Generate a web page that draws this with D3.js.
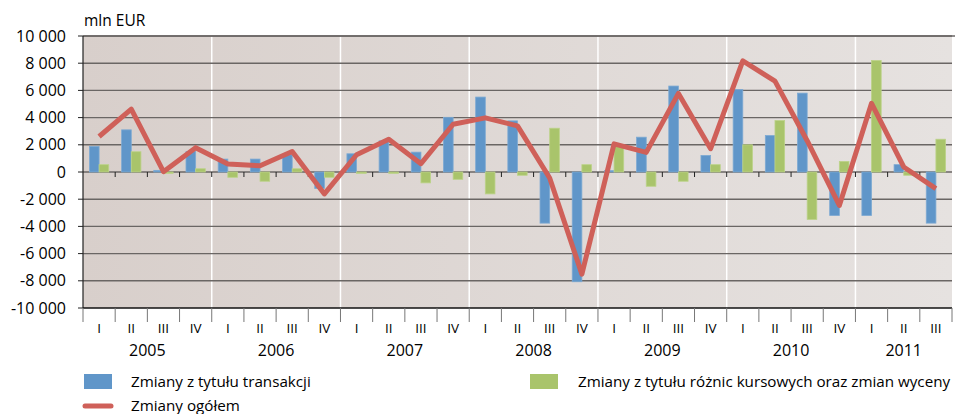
<!DOCTYPE html>
<html>
<head>
<meta charset="utf-8">
<script src="https://cdn.jsdelivr.net/npm/d3@7"></script>
<style>
  body { margin: 0; background: #fff; }
  svg { display: block; font-family: "Open Sans", "Noto Sans", sans-serif; }
</style>
</head>
<body>
<div id="chart"></div>
<script>
// kwartały 2005 I - 2011 III
const years = ['2005', '2006', '2007', '2008', '2009', '2010', '2011'];
const quarterNames = ['I', 'II', 'III', 'IV'];
const quarters = [];
years.forEach(y => quarterNames.forEach(q => quarters.push({year: y, q: q})));
quarters.splice(27); // ostatni: 2011 III

const transakcje = [1880, 3100, 120, 1510, 950, 950, 1270, -1220,
  1340, 2290, 1460, 4020, 5510, 3760, -3760, -8070,
  100, 2560, 6320, 1220, 6070, 2680, 5800, -3200,
  -3200, 540, -3760];
const wycena = [540, 1490, -100, 240, -390, -680, 240, -390,
  -100, -100, -800, -540, -1610, -240, 3220, 540,
  1900, -1050, -680, 540, 2000, 3780, -3490, 780,
  8200, -240, 2410];
const ogolem = [2610, 4630, 20, 1790, 590, 460, 1510, -1610,
  1270, 2410, 610, 3510, 3980, 3390, -440, -7510,
  2070, 1440, 5780, 1710, 8170, 6680, 2300, -2460,
  5050, 370, -1220];
const yTicks = [10000, 8000, 6000, 4000, 2000, 0, -2000, -4000, -6000, -8000, -10000];

const width = 955, height = 414;
const mLeft = 83, mRight = 952, mTop = 36, mBottom = 308;

const svg = d3.select('#chart').append('svg')
  .attr('width', width)
  .attr('height', height);

const x = d3.scaleBand()
  .domain(d3.range(quarters.length))
  .range([mLeft, mRight])
  .paddingInner(0)
  .paddingOuter(0);
const y = d3.scaleLinear().domain([-10000, 10000]).range([mBottom, mTop]);
const barW = x.bandwidth() * 0.3;
const fmt = v => d3.format(',')(v).replace(/,/g, ' ').replace('\u2212', '-');

// tło z gradientem
const defs = svg.append('defs');
const grad = defs.append('linearGradient').attr('id', 'bg')
  .attr('x1', '0%').attr('x2', '100%').attr('y1', '0%').attr('y2', '0%');
grad.append('stop').attr('offset', '0%').attr('stop-color', '#d8cfcb');
grad.append('stop').attr('offset', '100%').attr('stop-color', '#e6e2e0');

svg.append('rect')
  .attr('x', mLeft).attr('y', mTop)
  .attr('width', mRight - mLeft).attr('height', mBottom - mTop)
  .attr('fill', 'url(#bg)');

// białe linie między latami
years.slice(1).forEach((yr, i) => {
  const xi = x((i + 1) * 4);
  svg.append('line')
    .attr('x1', xi).attr('x2', xi)
    .attr('y1', mTop).attr('y2', mBottom)
    .attr('stroke', '#fff').attr('stroke-width', 1.5);
});

// linie siatki
svg.append('g')
  .selectAll('line')
  .data(yTicks.filter(v => v !== -10000))
  .join('line')
  .attr('x1', mLeft).attr('x2', mRight)
  .attr('y1', d => y(d)).attr('y2', d => y(d))
  .attr('stroke', '#6a6664')
  .attr('stroke-width', 1.4);

// słupki
const bars = svg.append('g');
bars.selectAll('.b1')
  .data(transakcje)
  .join('rect')
  .attr('class', 'b1')
  .attr('x', (d, i) => x(i) + x.bandwidth() / 2 - barW)
  .attr('y', d => y(Math.max(0, d)))
  .attr('width', barW)
  .attr('height', d => Math.abs(y(d) - y(0)))
  .attr('fill', '#6096c9')
  .attr('stroke', '#7eaad3')
  .attr('stroke-width', 0.8);

bars.selectAll('.b2')
  .data(wycena)
  .join('rect')
  .attr('class', 'b2')
  .attr('x', (d, i) => x(i) + x.bandwidth() / 2)
  .attr('y', d => y(Math.max(0, d)))
  .attr('width', barW)
  .attr('height', d => Math.abs(y(d) - y(0)))
  .attr('fill', '#a9c46b')
  .attr('stroke', '#bcd389')
  .attr('stroke-width', 0.8);

// znaczniki na linii zera
svg.append('g')
  .selectAll('line')
  .data(d3.range(1, quarters.length))
  .join('line')
  .attr('x1', d => x(d)).attr('x2', d => x(d))
  .attr('y1', y(0)).attr('y2', y(0) + 5)
  .attr('stroke', '#222').attr('stroke-width', 1);

// linia ogółem
const line = d3.line()
  .x((d, i) => x(i) + x.bandwidth() / 2)
  .y(d => y(d));
svg.append('path')
  .datum(ogolem)
  .attr('d', line)
  .attr('fill', 'none')
  .attr('stroke', '#cf6059')
  .attr('stroke-width', 5)
  .attr('stroke-linejoin', 'round');

// górna krawędź
svg.append('line')
  .attr('x1', mLeft).attr('x2', width)
  .attr('y1', mTop).attr('y2', mTop)
  .attr('stroke', '#6a6664').attr('stroke-width', 1.4);

// oś Y
const yAxis = svg.append('g');
yAxis.append('line')
  .attr('x1', mLeft).attr('x2', mLeft)
  .attr('y1', mTop).attr('y2', mBottom)
  .attr('stroke', '#222').attr('stroke-width', 1.2);
yAxis.selectAll('.tk')
  .data(yTicks)
  .join('line')
  .attr('class', 'tk')
  .attr('x1', mLeft - 5).attr('x2', mLeft)
  .attr('y1', d => y(d)).attr('y2', d => y(d))
  .attr('stroke', '#222');
yAxis.selectAll('text')
  .data(yTicks)
  .join('text')
  .attr('x', mLeft - 17)
  .attr('y', d => y(d))
  .attr('dy', '0.35em')
  .attr('text-anchor', 'end')
  .attr('font-size', 16)
  .attr('fill', '#000')
  .text(d => fmt(d));

svg.append('text')
  .attr('x', mLeft + 1).attr('y', 26)
  .attr('font-size', 15.5)
  .attr('fill', '#000')
  .text('mln EUR');

// oś X
const xAxis = svg.append('g');
xAxis.append('line')
  .attr('x1', mLeft).attr('x2', mRight)
  .attr('y1', mBottom).attr('y2', mBottom)
  .attr('stroke', '#111').attr('stroke-width', 1.5);
xAxis.selectAll('.tk')
  .data(d3.range(quarters.length + 1))
  .join('line')
  .attr('class', 'tk')
  .attr('x1', d => d < quarters.length ? x(d) : mRight)
  .attr('x2', d => d < quarters.length ? x(d) : mRight)
  .attr('y1', mBottom).attr('y2', mBottom + 14)
  .attr('stroke', '#777').attr('stroke-width', 1);
xAxis.selectAll('.ql')
  .data(quarters)
  .join('text')
  .attr('class', 'ql')
  .attr('x', (d, i) => x(i) + x.bandwidth() / 2)
  .attr('y', 333)
  .attr('text-anchor', 'middle')
  .attr('font-size', 13.5)
  .attr('fill', '#000')
  .text(d => d.q);
xAxis.selectAll('.yl')
  .data(years)
  .join('text')
  .attr('class', 'yl')
  .attr('x', (d, i) => {
    const idx = quarters.map((q, j) => q.year === d ? j : -1).filter(j => j >= 0);
    return (x(idx[0]) + x(idx[idx.length - 1]) + x.bandwidth()) / 2;
  })
  .attr('y', 356)
  .attr('text-anchor', 'middle')
  .attr('font-size', 16)
  .attr('fill', '#000')
  .text(d => d);

// legenda
const legend = svg.append('g');
legend.append('rect')
  .attr('x', 84).attr('y', 374).attr('width', 28).attr('height', 15)
  .attr('fill', '#6096c9');
legend.append('text')
  .attr('x', 131).attr('y', 387)
  .attr('font-size', 15.2).attr('fill', '#000')
  .text('Zmiany z tytułu transakcji');
legend.append('rect')
  .attr('x', 530).attr('y', 374).attr('width', 28).attr('height', 15)
  .attr('fill', '#a9c46b');
legend.append('text')
  .attr('x', 578).attr('y', 387)
  .attr('font-size', 15.2).attr('fill', '#000')
  .text('Zmiany z tytułu różnic kursowych oraz zmian wyceny');
legend.append('line')
  .attr('x1', 85).attr('x2', 111)
  .attr('y1', 406).attr('y2', 406)
  .attr('stroke', '#cf6059').attr('stroke-width', 5)
  .attr('stroke-linecap', 'round');
legend.append('text')
  .attr('x', 131).attr('y', 411)
  .attr('font-size', 15.2).attr('fill', '#000')
  .text('Zmiany ogółem');
</script>
</body>
</html>
